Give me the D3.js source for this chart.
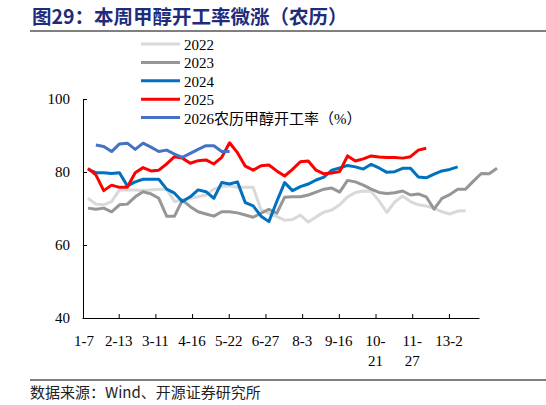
<!DOCTYPE html>
<html><head><meta charset="utf-8">
<script src="https://cdn.jsdelivr.net/npm/d3@7"></script>
<style>body{margin:0;background:#fff}</style>
</head><body>
<svg id="c" width="546" height="405"></svg>
<script>
// week labels on the x axis (lunar calendar)
var tickLabels = ["1-7", "2-13", "3-11", "4-16", "5-22", "6-27", "8-3", "9-16", "10-21", "11-27", "13-2"];
var years = ["2022", "2023", "2024", "2025", "2026农历甲醇开工率（%）"];
var colors = ["#D9D9D9", "#969696", "#0070C0", "#FF0000", "#4472C4"];

var s2022 = [72.8,71.2,71.0,71.9,75.1,75.1,75.1,74.9,75.1,75.3,75.3,71.9,72.3,72.8,73.2,73.7,75.3,76.0,76.2,75.8,75.8,75.8,69.6,68.7,67.8,66.8,67.0,68.2,
  66.3,67.7,69.0,69.6,71.0,73.2,74.4,74.8,74.7,72.1,68.9,71.8,73.4,71.9,71.0,70.7,70.1,69.1,68.5,69.3,69.4];
var s2023 = [70.1,69.8,70.1,69.1,71.0,71.2,73.2,74.6,74.0,72.8,67.9,67.9,72.3,70.5,69.1,68.5,67.9,69.1,69.1,68.8,68.2,67.6,68.7,69.8,68.7,73.1,73.2,73.2,
  73.7,74.5,75.3,75.6,74.5,77.7,77.3,76.4,75.3,74.4,74.1,74.3,74.8,73.7,74.0,73.2,69.8,72.8,73.8,75.3,75.3,77.5,79.6,79.5,81.0];
var s2024 = [80.7,79.8,79.8,79.6,79.8,76.2,77.3,78.0,78.0,78.0,75.3,74.2,71.9,73.2,75.1,74.6,72.8,77.1,76.7,77.3,71.6,70.7,67.9,66.4,71.9,77.1,74.9,76.0,
  76.7,77.8,78.6,80.5,81.1,81.8,81.4,80.8,82.1,81.1,79.9,80.1,81.0,81.0,78.6,78.4,79.4,80.3,80.7,81.4];
var s2025 = [81.0,79.2,74.9,76.4,75.8,75.8,79.8,81.2,80.3,80.5,82.2,84.2,83.8,82.4,83.1,83.3,82.2,84.0,88.0,85.3,81.6,80.5,81.7,81.9,80.3,78.9,80.7,82.8,
  83.0,80.5,79.5,79.7,80.1,84.4,83.0,83.6,84.4,84.1,84.0,84.0,83.8,84.2,86.0,86.5];
var s2026 = [null,87.4,87.0,85.6,87.7,87.9,86.2,87.9,86.8,85.6,86.0,84.9,84.0,85.1,86.2,87.2,87.2,85.6,85.6];
var series = [s2022, s2023, s2024, s2025, s2026];

var svg = d3.select("#c");
var font = "'Liberation Serif','Times New Roman',serif";

svg.append("text").attr("x", 32).attr("y", 24)
  .attr("font-family", "'Noto Sans CJK SC'").attr("font-weight", "bold")
  .attr("font-size", 19.5).attr("fill", "#1F2C7C")
  .text("图29：本周甲醇开工率微涨（农历）");
svg.append("line").attr("x1", 30).attr("x2", 546).attr("y1", 31).attr("y2", 31).attr("stroke", "#000");
svg.append("line").attr("x1", 30).attr("x2", 546).attr("y1", 380).attr("y2", 380).attr("stroke", "#000");
svg.append("text").attr("x", 30).attr("y", 398)
  .attr("font-family", "'Noto Sans CJK SC'").attr("font-size", 15).attr("fill", "#222")
  .text("数据来源：Wind、开源证券研究所");

var x = d3.scaleLinear().domain([0, 52]).range([88, 497]);
var y = d3.scaleLinear().domain([40, 100]).range([318, 99]);
var xl = d3.scaleLinear().domain([0, 10.82]).range([82, 479]);

// y axis
var ya = svg.append("g").attr("transform", "translate(83,0)")
  .call(d3.axisRight(y).tickValues([40, 60, 80, 100]).tickSize(4).tickFormat(""));
ya.selectAll("path,line").attr("stroke", "#000");
svg.selectAll(".ylab").data([40, 60, 80, 100]).enter().append("text")
  .attr("x", 70).attr("y", function (d) { return y(d) + 5; })
  .attr("text-anchor", "end").attr("font-family", font).attr("font-size", 15)
  .text(function (d) { return d; });

// x axis
var xa = svg.append("g").attr("transform", "translate(0,318)")
  .call(d3.axisTop(xl).tickValues(d3.range(1, 11)).tickSize(4).tickSizeOuter(0).tickFormat(""));
xa.selectAll("path,line").attr("stroke", "#000");
tickLabels.forEach(function (t, i) {
  var parts = t.length > 4 ? [t.slice(0, 3), t.slice(3)] : [t];
  var tx = svg.append("text").attr("x", xl(i) + (i == 0 ? 2 : 0)).attr("y", 346)
    .attr("text-anchor", "middle").attr("font-family", font).attr("font-size", 15);
  parts.forEach(function (p, j) {
    tx.append("tspan").attr("x", xl(i) + (i == 0 ? 2 : 0)).attr("dy", j ? 20 : 0).text(p);
  });
});

var line = d3.line().defined(function (d) { return d != null; })
  .x(function (d, i) { return x(i); }).y(function (d) { return y(d); });
series.forEach(function (s, k) {
  svg.append("path").datum(s).attr("d", line).attr("fill", "none")
    .attr("stroke", colors[k]).attr("stroke-width", 3).attr("stroke-linejoin", "round");
});

// legend
years.forEach(function (n, k) {
  var ly = 44 + k * 18.4;
  svg.append("line").attr("x1", 141).attr("x2", 180).attr("y1", ly).attr("y2", ly)
    .attr("stroke", colors[k]).attr("stroke-width", 3);
  svg.append("text").attr("x", 184).attr("y", ly + 6).attr("font-family", font + ",'Noto Sans CJK SC'")
    .attr("font-size", 15).text(n);
});
</script>
</body></html>
